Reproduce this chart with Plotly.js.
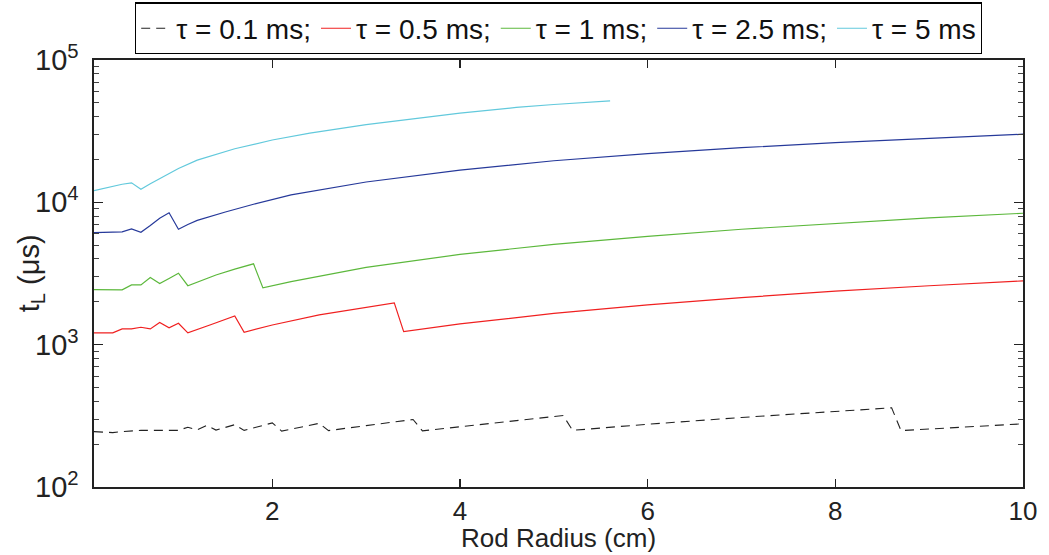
<!DOCTYPE html>
<html>
<head>
<meta charset="utf-8">
<script src="https://cdn.plot.ly/plotly-3.0.1.min.js"></script>
<style>
html,body{margin:0;padding:0;background:#fff;}
#chart{width:1049px;height:555px;}
</style>
</head>
<body>
<div id="chart"></div>
<script>
// Rod radius (cm) and t_L (µs) for each tau
const names = ['\u03c4 = 0.1 ms;', '\u03c4 = 0.5 ms;', '\u03c4 = 1 ms;', '\u03c4 = 2.5 ms;', '\u03c4 = 5 ms'];

const x01 = [0.1,0.3,0.4,0.5,0.6,0.9,1.0,1.1,1.2,1.3,1.4,1.6,1.7,2.0,2.1,2.5,2.6,3.0,3.5,3.6,4.3,5.1,5.2,6.0,7.0,8.0,8.6,8.7,9.4,10];
const y01 = [245,241,245,248,250,250,250,263,252,271,251,274,250,282,247,280,249,270,298,248,280,318,250,276,308,340,360,249,264,278];

const x05 = [0.1,0.2,0.3,0.4,0.5,0.6,0.7,0.8,0.9,1.0,1.1,1.35,1.6,1.7,2.0,2.5,3.0,3.3,3.4,4,5,6,7,8,9,10];
const y05 = [1211,1211,1211,1291,1291,1325,1291,1430,1312,1413,1211,1385,1593,1222,1374,1620,1837,1967,1236,1398,1657,1904,2141,2380,2593,2807];

const x1 = [0.1,0.2,0.3,0.4,0.5,0.6,0.7,0.8,0.9,1.0,1.1,1.4,1.6,1.8,1.9,2.0,2.2,3,4,5,6,7,8,9,10];
const y1 = [2439,2436,2433,2427,2630,2630,2963,2685,2920,3176,2596,3086,3398,3697,2507,2602,2770,3495,4307,5066,5760,6470,7130,7767,8379];

const x25 = [0.1,0.2,0.3,0.4,0.5,0.6,0.7,0.8,0.9,1.0,1.1,1.2,1.5,1.8,2.2,3,4,5,6,7,8,9,10];
const y25 = [6134,6134,6150,6207,6512,6165,6870,7730,8440,6476,6990,7470,8550,9700,11290,13900,16860,19590,22020,24200,26260,28230,30100];

const x5 = [0.1,0.2,0.3,0.4,0.5,0.6,0.7,0.8,0.9,1.0,1.2,1.6,2.0,2.4,3.0,3.5,4.0,4.6,5.0,5.6];
const y5 = [12100,12500,13060,13400,13710,12370,13490,14700,15900,17300,19800,23800,27400,30600,35200,38800,42300,46400,48700,51700];

const yTickVals = [100, 1000, 10000, 100000];
const yTickText = ['10<sup>2</sup>', '10<sup>3</sup>', '10<sup>4</sup>', '10<sup>5</sup>'];
const yMinorVals = [200,300,400,500,600,700,800,900,2000,3000,4000,5000,6000,7000,8000,9000,20000,30000,40000,50000,60000,70000,80000,90000];
const xTickVals = [2, 4, 6, 8, 10];
const xTitle = 'Rod Radius (cm)';
const yTitle = 't<sub>L</sub> (\u03bcs)';

const FONT = 'Liberation Sans, Arial, sans-serif';

const traces = [
  {x: x01, y: y01, name: names[0], mode: 'lines', line: {color: '#222222', width: 1.1, dash: '9px,6px'}},
  {x: x05, y: y05, name: names[1], mode: 'lines', line: {color: '#f02020', width: 1.2}},
  {x: x1,  y: y1,  name: names[2], mode: 'lines', line: {color: '#5cb83c', width: 1.2}},
  {x: x25, y: y25, name: names[3], mode: 'lines', line: {color: '#26399a', width: 1.2}},
  {x: x5,  y: y5,  name: names[4], mode: 'lines', line: {color: '#62c9dc', width: 1.2}}
];

const layout = {
  width: 1049, height: 555,
  margin: {l: 94, r: 26, t: 59.5, b: 68.3, pad: 0, autoexpand: false},
  paper_bgcolor: '#ffffff', plot_bgcolor: '#ffffff',
  font: {family: FONT, size: 26, color: '#222222'},
  showlegend: true,
  legend: {
    orientation: 'h', x: 0.5, xanchor: 'center', y: 1.135, yanchor: 'top',
    bordercolor: '#000000', borderwidth: 1.2, bgcolor: '#ffffff',
    font: {family: FONT, size: 28, color: '#111111'},
    itemwidth: 30, tracegroupgap: 0
  },
  xaxis: {
    type: 'linear', range: [0.1, 10],
    tickmode: 'array', tickvals: xTickVals, ticktext: xTickVals.map(String),
    ticks: 'inside', ticklen: 8, tickwidth: 1.2, tickcolor: '#222',
    ticklabelstandoff: 0,
    showline: true, linecolor: '#222', linewidth: 1.6, mirror: 'ticks',
    showgrid: false, zeroline: false,
    tickfont: {family: FONT, size: 26, color: '#222'}
  },
  yaxis: {
    type: 'log', range: [2, 5],
    tickmode: 'array', tickvals: yTickVals, ticktext: yTickText,
    ticks: 'inside', ticklen: 9, tickwidth: 1.2, tickcolor: '#222',
    ticklabelstandoff: 8,
    minor: {tickmode: 'array', tickvals: yMinorVals, ticks: 'inside', ticklen: 5, tickwidth: 1, tickcolor: '#444', showgrid: false},
    showline: true, linecolor: '#222', linewidth: 1.6, mirror: 'ticks',
    showgrid: false, zeroline: false,
    tickfont: {family: FONT, size: 29, color: '#222'}
  },
  annotations: [
    {text: xTitle, xref: 'paper', yref: 'paper', x: 0.5, y: -0.1205, xanchor: 'center', yanchor: 'middle',
     showarrow: false, borderpad: 0, font: {family: FONT, size: 26, color: '#222'}},
    {text: yTitle, xref: 'paper', yref: 'paper', x: -0.068, y: 0.5, xanchor: 'center', yanchor: 'middle',
     textangle: -90, showarrow: false, font: {family: FONT, size: 29, color: '#222'}}
  ]
};

Plotly.newPlot('chart', traces, layout, {displayModeBar: false, staticPlot: true});
</script>
</body>
</html>
